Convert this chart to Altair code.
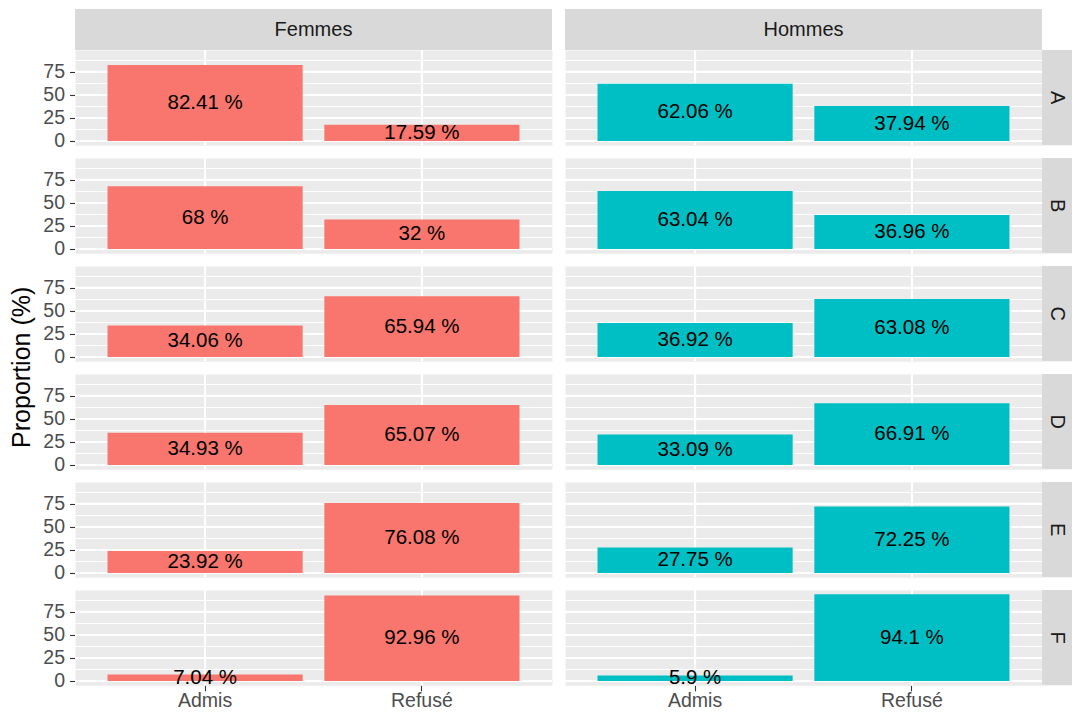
import altair as alt
import pandas as pd

departements = ["A", "B", "C", "D", "E", "F"]
sexes = ["Femmes", "Hommes"]
decisions = ["Admis", "Refusé"]
femmes_admis = [82.41, 68, 34.06, 34.93, 23.92, 7.04]
femmes_refuse = [17.59, 32, 65.94, 65.07, 76.08, 92.96]
hommes_admis = [62.06, 63.04, 36.92, 33.09, 27.75, 5.9]
hommes_refuse = [37.94, 36.96, 63.08, 66.91, 72.25, 94.1]
y_major = [0, 25, 50, 75]
y_minor = [12.5, 37.5, 62.5, 87.5]
colors = {"Femmes": "#F8766D", "Hommes": "#00BFC4"}

rows = []
for sexe, adm, ref in [("Femmes", femmes_admis, femmes_refuse),
                       ("Hommes", hommes_admis, hommes_refuse)]:
    for d, a, r in zip(departements, adm, ref):
        for dec, v in (("Admis", a), ("Refusé", r)):
            rows.append({"sexe": sexe, "dept": d, "decision": dec, "prop": v,
                         "mid": v / 2, "label": f"{v:g} %"})
df = pd.DataFrame(rows)

ymax = float(df["prop"].max())
ydom = [-0.05 * ymax, 1.05 * ymax]

FONT = "Liberation Sans"
W, H = 477, 95.3
SW, ST = 30, 41

xscale = alt.Scale(domain=decisions, paddingInner=0.1, paddingOuter=0.15)
yscale = alt.Scale(domain=ydom, nice=False, zero=False)


def panel(sexe, dept, first, last):
    sub = df[(df["sexe"] == sexe) & (df["dept"] == dept)]
    if last:
        xaxis = alt.Axis(title=None, labelFont=FONT, labelFontSize=19.5, labelColor="#4D4D4D",
                         tickColor="#333333", tickSize=5.5, tickWidth=1.1, labelPadding=1,
                         domain=False, grid=False, labelAngle=0)
    else:
        xaxis = None
    if sexe == "Femmes":
        yaxis = alt.Axis(title=None, values=y_major, labelFont=FONT, labelFontSize=19.5,
                         labelColor="#4D4D4D", tickColor="#333333", tickSize=5.5, tickWidth=1.1,
                         labelPadding=5, domain=False, grid=False)
    else:
        yaxis = None
    minor = alt.Chart(pd.DataFrame({"v": y_minor})).mark_rule(color="white", strokeWidth=1.05).encode(
        y=alt.Y("v:Q", scale=yscale, axis=yaxis))
    major = alt.Chart(pd.DataFrame({"v": y_major})).mark_rule(color="white", strokeWidth=2.1).encode(
        y=alt.Y("v:Q", scale=yscale, axis=yaxis))
    vg = alt.Chart(pd.DataFrame({"d": decisions})).mark_rule(color="white", strokeWidth=2.1).encode(
        x=alt.X("d:N", scale=xscale, axis=xaxis))
    bars = alt.Chart(sub).mark_bar(color=colors[sexe]).encode(
        x=alt.X("decision:N", scale=xscale, axis=xaxis),
        y=alt.Y("prop:Q", scale=yscale, axis=yaxis),
        y2=alt.datum(0))
    labels = alt.Chart(sub).mark_text(font=FONT, fontSize=20.5, color="black", baseline="middle").encode(
        x=alt.X("decision:N", scale=xscale, axis=xaxis),
        y=alt.Y("mid:Q", scale=yscale, axis=yaxis),
        text="label:N")
    layers = [minor, major, vg, bars, labels]
    if first:
        tdf = pd.DataFrame({"t": [sexe]})
        layers.append(alt.Chart(tdf).mark_rect(color="#D9D9D9").encode(
            x=alt.value(0), x2=alt.value(W), y=alt.value(-ST), y2=alt.value(0)))
        layers.append(alt.Chart(tdf).mark_text(font=FONT, fontSize=20, color="#1A1A1A",
                                               baseline="middle").encode(
            x=alt.value(W / 2), y=alt.value(-ST / 2), text="t:N"))
    if sexe == "Hommes":
        rdf = pd.DataFrame({"t": [dept]})
        layers.append(alt.Chart(rdf).mark_rect(color="#D9D9D9").encode(
            x=alt.value(W), x2=alt.value(W + SW), y=alt.value(0), y2=alt.value(H)))
        layers.append(alt.Chart(rdf).mark_text(font=FONT, fontSize=20, color="#1A1A1A",
                                               baseline="middle", angle=90).encode(
            x=alt.value(W + SW / 2), y=alt.value(H / 2), text="t:N"))
    if sexe == "Femmes" and dept == "C":
        ttl = pd.DataFrame({"t": ["Proportion (%)"]})
        layers.append(alt.Chart(ttl).mark_text(font=FONT, fontSize=25, color="black",
                                               baseline="middle", angle=270).encode(
            x=alt.value(-53.5), y=alt.value(H + 6), text="t:N"))
    return alt.layer(*layers).properties(width=W, height=H)


panels = []
for i, d in enumerate(departements):
    for s in sexes:
        panels.append(panel(s, d, i == 0, i == len(departements) - 1))

chart = alt.concat(*panels, columns=2, spacing={"row": 12, "column": 13}, bounds="flush").configure_view(
    fill="#EBEBEB", strokeOpacity=0
).properties(padding={"left": 1, "top": 1, "right": 0, "bottom": 0})

chart.save("out.html", embed_options={"renderer": "svg", "actions": False})
